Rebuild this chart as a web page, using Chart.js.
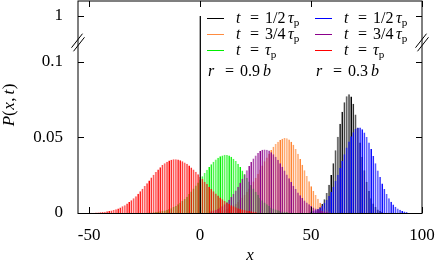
<!DOCTYPE html>
<html>
<head>
<meta charset="utf-8">
<script src="https://cdn.jsdelivr.net/npm/chart.js@4.4.1/dist/chart.umd.min.js"></script>
<style>
html,body{margin:0;padding:0;background:#ffffff;overflow:hidden;}
canvas{display:block;}
</style>
</head>
<body>
<canvas id="chart" width="436" height="263"></canvas>
<script>
// ---------------- data ----------------
const xTicks = [-50, 0, 50, 100];
const xTickLabels = ['-50', '0', '50', '100'];
const yTicks = [0, 0.05, 0.1, 1];
const yTickLabels = ['0', '0.05', '0.1', '1'];

// initial condition P(x,0) = delta(x)
const deltaX = [0];
const deltaP = [1];

// r = 0.9 b
const blackX0 = 52;   // t = 1/2 tau_p
const blackP = [0.0014,0.0024,0.0039,0.0061,0.0091,0.0132,0.0186,0.0251,0.0328,0.0414,0.0503,0.0590,0.0669,0.0731,0.0771,0.0785,0.0769,0.0722,0.0651,0.0563,0.0466,0.0371,0.0283,0.0207,0.0145,0.0098,0.0063,0.0039,0.0023,0.0013,0.0007];

const orangeX0 = 10;  // t = 3/4 tau_p
const orangeP = [0.0017,0.0022,0.0027,0.0034,0.0041,0.0051,0.0061,0.0073,0.0087,0.0103,0.0120,0.0140,0.0161,0.0183,0.0208,0.0233,0.0260,0.0287,0.0314,0.0341,0.0367,0.0392,0.0416,0.0437,0.0455,0.0471,0.0482,0.0490,0.0495,0.0494,0.0486,0.0471,0.0450,0.0423,0.0391,0.0356,0.0319,0.0282,0.0245,0.0209,0.0176,0.0146,0.0119,0.0094,0.0068,0.0047,0.0031,0.0020,0.0012,0.0007];

const greenX0 = -25;  // t = tau_p
const greenP = [0.0002,0.0002,0.0003,0.0004,0.0005,0.0006,0.0008,0.0011,0.0013,0.0017,0.0021,0.0026,0.0032,0.0039,0.0047,0.0057,0.0068,0.0080,0.0093,0.0108,0.0125,0.0142,0.0161,0.0181,0.0201,0.0222,0.0243,0.0264,0.0285,0.0304,0.0322,0.0339,0.0353,0.0365,0.0374,0.0380,0.0384,0.0383,0.0379,0.0371,0.0359,0.0343,0.0325,0.0304,0.0281,0.0257,0.0233,0.0208,0.0185,0.0162,0.0140,0.0120,0.0101,0.0085,0.0070,0.0058,0.0047,0.0037,0.0030,0.0023,0.0018,0.0014,0.0010,0.0008,0.0006];

// r = 0.3 b
const blueX0 = 50;    // t = 1/2 tau_p
const blueP = [0.0009,0.0013,0.0019,0.0027,0.0037,0.0050,0.0067,0.0087,0.0112,0.0141,0.0174,0.0212,0.0253,0.0297,0.0343,0.0388,0.0432,0.0472,0.0507,0.0534,0.0554,0.0564,0.0564,0.0553,0.0532,0.0502,0.0465,0.0422,0.0376,0.0328,0.0281,0.0237,0.0195,0.0158,0.0125,0.0097,0.0074,0.0056,0.0041,0.0029,0.0021,0.0014,0.0010,0.0006];

const purpleX0 = 5;   // t = 3/4 tau_p
const purpleP = [0.0012,0.0016,0.0021,0.0028,0.0036,0.0045,0.0057,0.0071,0.0087,0.0105,0.0125,0.0148,0.0173,0.0199,0.0227,0.0255,0.0283,0.0310,0.0336,0.0360,0.0380,0.0397,0.0410,0.0417,0.0420,0.0418,0.0412,0.0402,0.0388,0.0371,0.0351,0.0329,0.0305,0.0280,0.0255,0.0229,0.0204,0.0180,0.0158,0.0136,0.0117,0.0099,0.0083,0.0069,0.0057,0.0046,0.0037,0.0030,0.0024,0.0018,0.0014,0.0010,0.0007];

const redX0 = -50;    // t = tau_p
const redP = [0.0001,0.0002,0.0002,0.0003,0.0004,0.0005,0.0007,0.0008,0.0011,0.0013,0.0016,0.0020,0.0025,0.0030,0.0037,0.0044,0.0052,0.0062,0.0072,0.0084,0.0097,0.0111,0.0127,0.0143,0.0160,0.0178,0.0197,0.0215,0.0234,0.0252,0.0270,0.0287,0.0302,0.0317,0.0329,0.0339,0.0347,0.0352,0.0355,0.0355,0.0353,0.0349,0.0342,0.0334,0.0325,0.0313,0.0301,0.0287,0.0272,0.0256,0.0240,0.0224,0.0207,0.0191,0.0174,0.0159,0.0143,0.0129,0.0115,0.0102,0.0090,0.0079,0.0069,0.0060,0.0052,0.0044,0.0038,0.0032,0.0027,0.0023,0.0019,0.0016,0.0013,0.0011,0.0009,0.0007];

const legendFractions = ['1/2', '3/4', ''];
const legendR = ['0.9', '0.3'];

// ---------------- axis (broken y axis) ----------------
const X_MIN = -55, X_MAX = 100;
const Y_TOP = 0.14;        // linear top of the drawn axis
const Y_BREAK = 0.1126;    // where the break marks sit
const Y_ONE = 0.1301;      // where the value 1 is drawn above the break
function axisY(p) { return p > 0.1 ? Y_ONE : p; }

function pts(x0, arr) { return arr.map((p, i) => ({ x: x0 + i, y: axisY(p) })); }

const FONT = "'Liberation Serif','Times New Roman',serif";

function barSet(label, data, solid, light, order) {
  return {
    type: 'bar', label, data, order,
    backgroundColor: light, borderColor: solid,
    borderWidth: { left: 0, right: 1, top: 0, bottom: 0 },
    borderSkipped: false, inflateAmount: 0,
    barThickness: 2, grouped: false
  };
}

const datasets = [
  barSet('delta', deltaX.map((x, i) => ({ x, y: axisY(deltaP[i]) })), '#000000', 'rgba(0,0,0,0.35)', 0),
  barSet('r=0.3b t=tau', pts(redX0, redP), '#ff0000', 'rgba(255,0,0,0.5)', 1),
  barSet('r=0.3b t=3/4tau', pts(purpleX0, purpleP), '#8b008b', 'rgba(139,0,139,0.5)', 2),
  barSet('r=0.3b t=1/2tau', pts(blueX0, blueP), '#0000ff', 'rgba(0,0,255,0.5)', 3),
  barSet('r=0.9b t=tau', pts(greenX0, greenP), '#00ee00', 'rgba(0,255,0,0.5)', 4),
  barSet('r=0.9b t=3/4tau', pts(orangeX0, orangeP), '#ff7f2a', 'rgba(255,140,60,0.5)', 5),
  barSet('r=0.9b t=1/2tau', pts(blackX0, blackP), '#000000', 'rgba(0,0,0,0.5)', 6)
];

const legendColors = [['#000000', '#ff8c40', '#00ee00'], ['#0000ff', '#8b008b', '#ff0000']];

function drawRuns(ctx, x0, base, runs, size) {
  let cur = x0;
  for (const r of runs) {
    const sz = r.sub ? size * 0.7 : size;
    ctx.font = (r.it ? 'italic ' : '') + sz + 'px ' + FONT;
    const x = (r.dx !== undefined) ? x0 + r.dx : cur + (r.gap || 0);
    ctx.fillText(r.s, x, base + (r.sub ? size * 0.22 : 0));
    cur = x + ctx.measureText(r.s).width;
  }
  return cur - x0;
}

const deco = {
  id: 'deco',
  afterDraw(chart) {
    const ctx = chart.ctx, a = chart.chartArea, xs = chart.scales.x, ys = chart.scales.y;
    ctx.save();
    ctx.strokeStyle = '#000'; ctx.lineWidth = 1;
    // frame
    ctx.strokeRect(a.left, a.top, a.right - a.left, a.bottom + 0.5 - a.top);
    // inward ticks, mirrored
    ctx.beginPath();
    xTicks.forEach(v => {
      const px = Math.round(xs.getPixelForValue(v)) + 0.5;
      ctx.moveTo(px, a.bottom); ctx.lineTo(px, a.bottom - 6);
      ctx.moveTo(px, a.top); ctx.lineTo(px, a.top + 6);
    });
    yTicks.forEach(v => {
      const py = Math.round(ys.getPixelForValue(axisY(v))) + 0.5;
      ctx.moveTo(a.left, py); ctx.lineTo(a.left + 6, py);
      ctx.moveTo(a.right, py); ctx.lineTo(a.right - 6, py);
    });
    ctx.stroke();
    // axis break marks
    const by = ys.getPixelForValue(Y_BREAK);
    ctx.beginPath();
    [a.left, a.right].forEach(ax => {
      [[-1, -1.8], [1, 1.8]].forEach(([dx, dy]) => {
        ctx.moveTo(ax + dx - 5.5, by + dy + 7);
        ctx.lineTo(ax + dx + 5.5, by + dy - 7);
      });
    });
    ctx.stroke();

    // legend
    ctx.fillStyle = '#000';
    ctx.textBaseline = 'alphabetic';
    ctx.textAlign = 'left';
    const rowY = [18, 34, 50];
    const colX = [207, 315];
    const size = 16;
    for (let c = 0; c < 2; c++) {
      for (let r = 0; r < 3; r++) {
        const y = rowY[r];
        ctx.strokeStyle = legendColors[c][r]; ctx.lineWidth = 1;
        ctx.beginPath(); ctx.moveTo(colX[c], y + 0.5); ctx.lineTo(colX[c] + 17, y + 0.5); ctx.stroke();
        const frac = legendFractions[r];
        const tx = colX[c] + 29;
        const runs = frac
          ? [{ s: 't', it: 1, dx: 0 }, { s: '=', dx: 14 }, { s: frac, dx: 29 }, { s: 'τ', it: 1, dx: 52 }, { s: 'p', sub: 1 }]
          : [{ s: 't', it: 1, dx: 0 }, { s: '=', dx: 14 }, { s: 'τ', it: 1, dx: 29 }, { s: 'p', sub: 1 }];
        drawRuns(ctx, tx, y + 4.5, runs, size);
      }
      drawRuns(ctx, colX[c] + 1, 76, [{ s: 'r', it: 1, dx: 0 }, { s: '=', dx: 17 }, { s: legendR[c], dx: 32 }, { s: 'b', it: 1, dx: 55 }], size);
    }

    // axis titles
    ctx.font = 'italic 17px ' + FONT;
    ctx.textAlign = 'center';
    ctx.fillText('x', (a.left + a.right) / 2, 260);
    ctx.textAlign = 'left';
    ctx.save();
    ctx.translate(10, 105);
    ctx.rotate(-Math.PI / 2);
    const yRuns = [{ s: 'P', it: 1, dx: 0 }, { s: '(' }, { s: 'x', it: 1, gap: 0.5 }, { s: ',', gap: 0.5 }, { s: 't', it: 1, gap: 3 }, { s: ')', gap: 0.5 }];
    ctx.globalAlpha = 0;
    const w = drawRuns(ctx, 0, 0, yRuns, 17);
    ctx.globalAlpha = 1;
    drawRuns(ctx, -w / 2, 4, yRuns, 17);
    ctx.restore();
    ctx.restore();
  }
};

new Chart(document.getElementById('chart'), {
  type: 'bar',
  data: { datasets },
  options: {
    responsive: false, animation: false, devicePixelRatio: 1, events: [],
    layout: { padding: { left: 0, right: 14, top: 1, bottom: 0 } },
    plugins: { legend: { display: false }, tooltip: { enabled: false } },
    scales: {
      x: {
        type: 'linear', min: X_MIN, max: X_MAX, offset: false,
        afterBuildTicks: s => { s.ticks = xTicks.map(v => ({ value: v })); },
        afterFit: s => { s.height = 50; s.paddingLeft = 0; s.paddingRight = 0; s.paddingTop = 0; s.paddingBottom = 0; },
        grid: { display: false, drawTicks: false, offset: false }, border: { display: false },
        ticks: { padding: 12, color: '#000', font: { family: FONT, size: 17 }, maxRotation: 0, autoSkip: false,
          callback: (v, i) => xTickLabels[i] }
      },
      y: {
        type: 'linear', min: 0, max: Y_TOP,
        afterBuildTicks: s => { s.ticks = yTicks.map(v => ({ value: axisY(v) })); },
        afterFit: s => { s.width = 78; s.paddingLeft = 0; s.paddingRight = 0; s.paddingTop = 0; s.paddingBottom = 0; },
        grid: { display: false, drawTicks: false }, border: { display: false },
        ticks: { padding: 15, color: '#000', font: { family: FONT, size: 17 }, autoSkip: false,
          callback: (v, i) => yTickLabels[i] }
      }
    }
  },
  plugins: [deco]
});
</script>
</body>
</html>
